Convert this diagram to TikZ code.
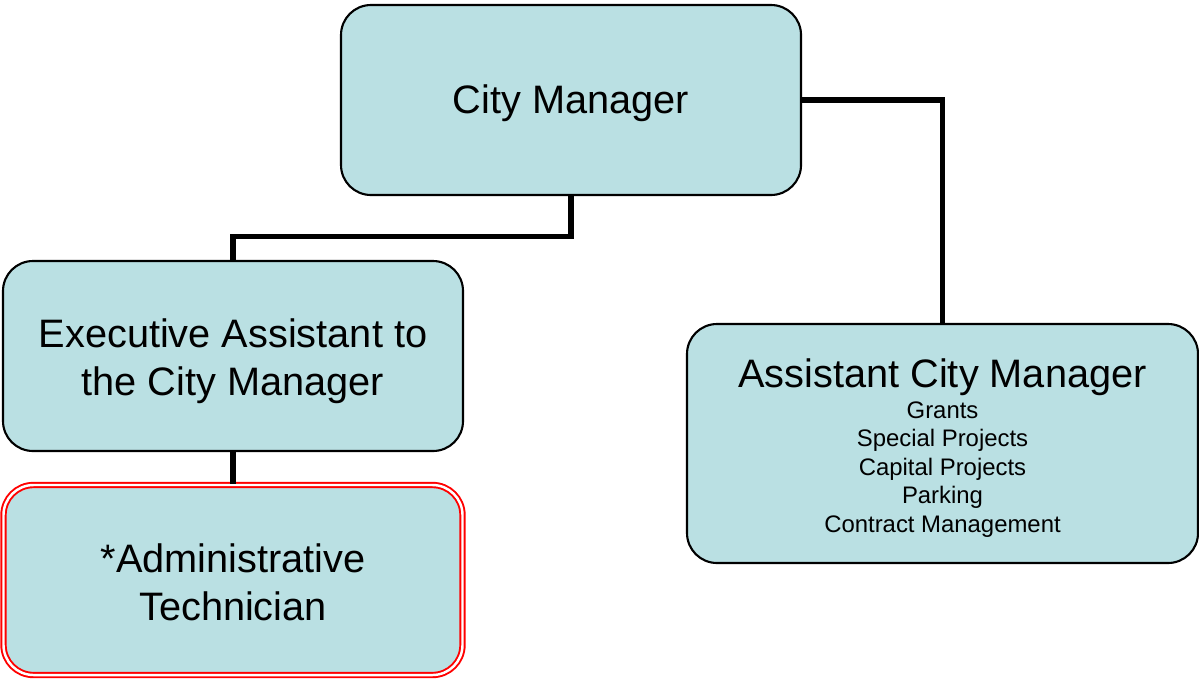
\documentclass[tikz,border=0pt]{standalone}
\usepackage{fontspec}
\setmainfont{Liberation Sans}
\definecolor{boxfill}{RGB}{186,224,227}
\newcommand{\smalllist}{\fontsize{6.8}{8.1}\selectfont}
\begin{document}
\begin{tikzpicture}[
  unitbox/.style={draw=black, line width=0.6pt, fill=boxfill, rounded corners=0.3cm, inner sep=0pt},
  redbox/.style={unitbox, draw=red, double=white, line width=0.55pt, double distance=0.7pt},
  boxtext/.style={inner sep=0pt, align=center, font=\fontsize{11.3}{13.7}\selectfont},
  link/.style={draw=black, line width=1.45pt}
]
\useasboundingbox (0,0) rectangle (11.99,-6.78);

% boxes
\node[unitbox, minimum width=4.60cm, minimum height=1.90cm] (cm) at (5.71,-1.00) {};
\node[unitbox, minimum width=4.60cm, minimum height=1.90cm] (ea) at (2.33,-3.56) {};
\node[redbox, minimum width=4.59cm, minimum height=1.90cm] (at) at (2.33,-5.80) {};
\node[unitbox, minimum width=5.11cm, minimum height=2.39cm] (acm) at (9.425,-4.435) {};

% labels
\node[boxtext] (cmtext) at ([yshift=-0.035cm]cm.center) {City Manager};
\node[boxtext] (eatext) at ([yshift=-0.05cm]ea.center) {Executive Assistant to\\the City Manager};
\node[boxtext] (attext) at ([yshift=-0.025cm]at.center) {*Administrative\\Technician};
\node[boxtext] (acmtext) at ([yshift=-0.065cm]acm.center)
  {Assistant City Manager\\[-5pt]
   \smalllist\begin{tabular}[t]{@{}c@{}}
   Grants\\ Special Projects\\ Capital Projects\\ Parking\\ Contract Management
   \end{tabular}};

% reporting lines
\draw[link] (cm.south) -- ++(0,-0.40) -| (ea.north);
\draw[link] (cm.east) -| (acm.north);
\draw[link] (ea.south) -- (at.north);
\end{tikzpicture}
\end{document}
